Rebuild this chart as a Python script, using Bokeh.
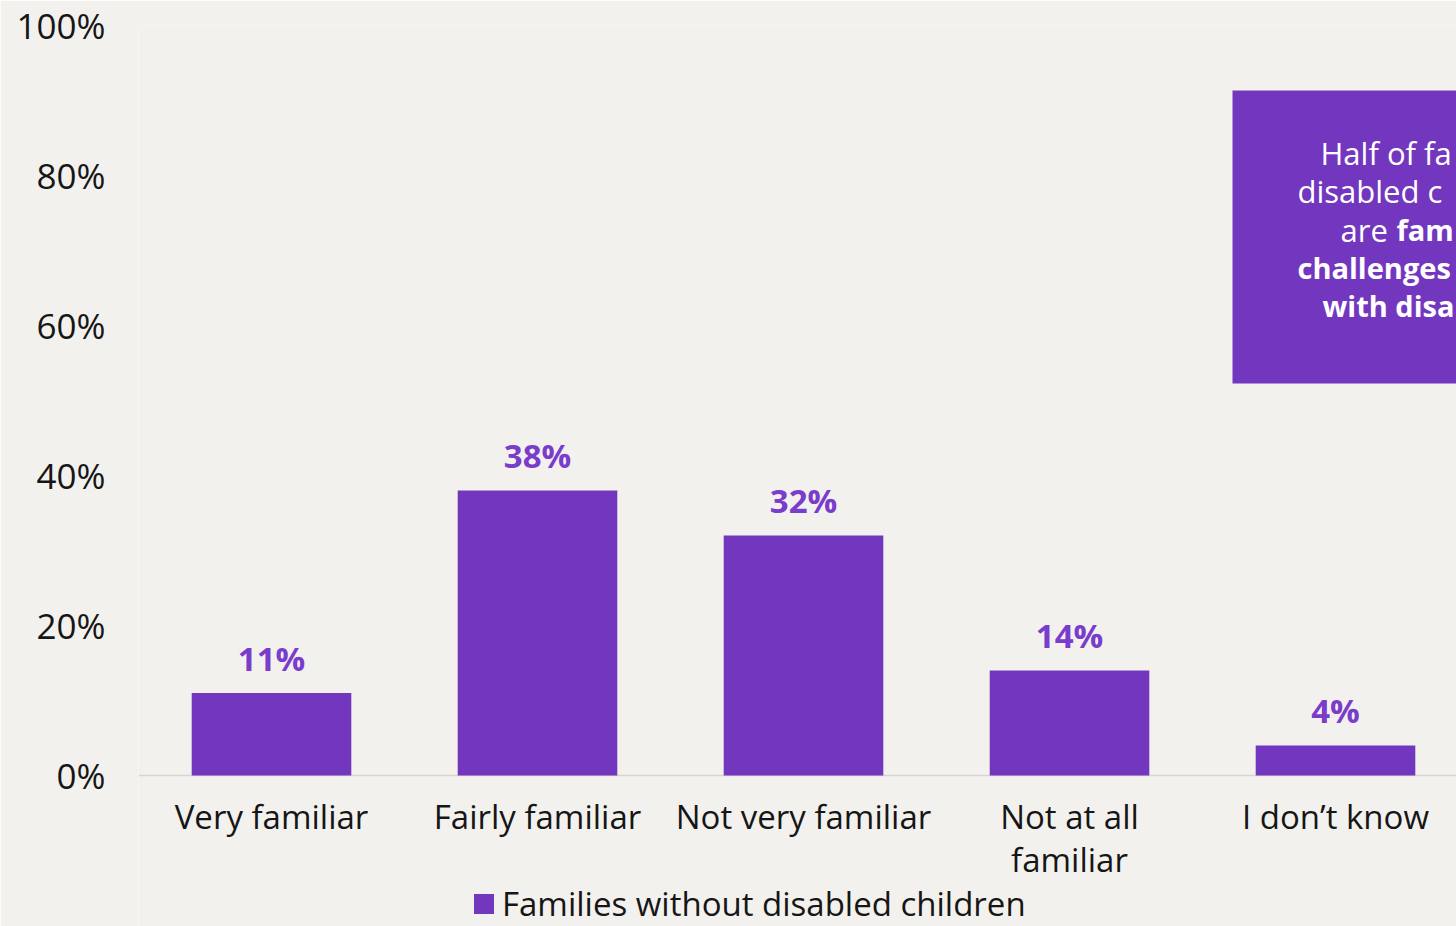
from bokeh.plotting import figure
from bokeh.models import (Range1d, FixedTicker, Span, BoxAnnotation, Legend,
                          LegendItem, ColumnDataSource)
from bokeh.core.properties import value
from bokeh.embed import file_html
from bokeh.resources import INLINE

# ---------------- data ----------------
categories = ["Very familiar", "Fairly familiar", "Not very familiar",
              "Not at all\nfamiliar", "I don\u2019t know"]
shares = [11, 38, 32, 14, 4]
series_name = "Families without disabled children"
y_ticks = [0, 20, 40, 60, 80, 100]
y_tick_labels = ["0%", "20%", "40%", "60%", "80%", "100%"]
# call-out box text, as far as it is visible (the box is cut by the right edge)
callout_regular = ["Half of fa", "disabled c", "are ", "", ""]
callout_bold = ["", "", "fam", "challenges", "with disa"]

# ---------------- style / layout ----------------
BG = "#f3f1ee"
PURPLE = "#7337bf"
LABEL_PURPLE = "#7a3ccb"
INK = "#161616"
FONT = "Open Sans"

W, H = 1456, 926
FRAME_LEFT = 138
FRAME_TOP = 25
PX_Y = 7.5      # pixels per percentage point
PX_X = 266      # pixels per category
frame_w = W - FRAME_LEFT
frame_h = H - FRAME_TOP
y_min = -(frame_h - 100 * PX_Y) / PX_Y
x_max = -0.5 + frame_w / PX_X


def dx(px):   # page pixel -> data x (layout helper for annotations)
    return -0.5 + (px - FRAME_LEFT) / PX_X


def dy(py):   # page pixel -> data y
    return 100 - (py - FRAME_TOP) / PX_Y


p = figure(width=W, height=H, x_range=Range1d(-0.5, x_max),
           y_range=Range1d(y_min, 100), output_backend="svg",
           toolbar_location=None, min_border_left=FRAME_LEFT,
           min_border_top=FRAME_TOP, min_border_right=0, min_border_bottom=0,
           background_fill_color=BG, border_fill_color=BG,
           outline_line_color=None)

p.xaxis.visible = False
p.xgrid.visible = False
p.ygrid.visible = False

ax = p.yaxis[0]
ax.ticker = FixedTicker(ticks=y_ticks)
ax.major_label_overrides = {t: l for t, l in zip(y_ticks, y_tick_labels)}
ax.axis_line_color = None
ax.major_tick_line_color = None
ax.minor_tick_line_color = None
ax.major_tick_out = 0
ax.major_tick_in = 0
ax.major_label_standoff = 33
ax.major_label_text_font = FONT
ax.major_label_text_font_size = "35px"
ax.major_label_text_color = INK

p.add_layout(Span(location=0, dimension="width", line_color="#d8d5d1",
                  line_width=1.5, level="underlay"))

line1 = [c.split("\n")[0] for c in categories]
line2 = [c.split("\n")[1] if "\n" in c else "" for c in categories]
src = ColumnDataSource(dict(x=list(range(len(categories))), share=shares,
                            label=[f"{v}%" for v in shares],
                            line1=line1, line2=line2))

bars = p.vbar(x="x", top="share", bottom=0, width=0.6, source=src,
              fill_color=PURPLE, line_color=None)

p.text(x="x", y="share", text="label", source=src, text_align="center",
       text_baseline="alphabetic", y_offset=-35, text_font=value(FONT),
       text_font_style="bold", text_font_size="33px", text_color=LABEL_PURPLE)

p.text(x="x", y=0, text="line1", source=src, text_align="center",
       text_baseline="alphabetic", y_offset=41, text_font=value(FONT),
       text_font_size="33px", text_color=INK)
p.text(x="x", y=0, text="line2", source=src, text_align="center",
       text_baseline="alphabetic", y_offset=84, text_font=value(FONT),
       text_font_size="33px", text_color=INK)

# call-out box (cut by the right edge, as in the source)
p.add_layout(BoxAnnotation(left=dx(1232), top=dy(90), bottom=dy(383),
                           fill_color=PURPLE, fill_alpha=1, line_color=None,
                           level="underlay"))
reg_x = [1320, 1297, 1340, 1340, 1340]
bold_x = [1396, 1396, 1396, 1297, 1322]
base_y = [152, 190, 229, 267, 305]
reg_src = ColumnDataSource(dict(x=[dx(v) for v in reg_x], y=[dy(v) for v in base_y],
                                t=callout_regular))
bold_src = ColumnDataSource(dict(x=[dx(v) for v in bold_x], y=[dy(v) for v in base_y],
                                 t=callout_bold))
p.text(x="x", y="y", text="t", source=reg_src, text_align="left",
       text_baseline="alphabetic", text_font=value(FONT), text_font_size="31px",
       text_color="white")
p.text(x="x", y="y", text="t", source=bold_src, text_align="left",
       text_baseline="alphabetic", text_font=value(FONT), text_font_style="bold",
       text_font_size="29px", text_color="white")

legend = Legend(items=[LegendItem(label=series_name, renderers=[bars])],
                location=(333, 0), orientation="horizontal", padding=0, margin=0,
                border_line_color=None, background_fill_alpha=0,
                glyph_width=25, glyph_height=25, label_standoff=6,
                label_text_font=FONT, label_text_font_size="33px",
                label_text_color=INK)
p.add_layout(legend, "center")

open("out.html", "w").write(file_html(p, INLINE))
